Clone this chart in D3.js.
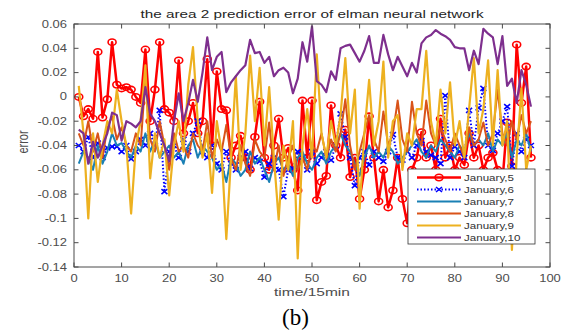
<!DOCTYPE html>
<html><head><meta charset="utf-8">
<script src="https://cdn.jsdelivr.net/npm/d3@7"></script>
<style>body{margin:0;background:#fff} svg{display:block}</style>
</head><body><svg id="c" width="567" height="334"></svg>
<script>
const seriesNames = ["January,5","January,6","January,7","January,8","January,9","January,10"];
const jan5 = [0.000,-0.016,-0.010,-0.018,0.037,-0.017,-0.002,0.045,0.010,0.007,0.008,0.006,0.000,-0.005,0.039,-0.020,0.006,0.045,-0.010,-0.013,
-0.020,0.030,-0.030,-0.020,-0.005,-0.030,-0.020,0.031,-0.040,0.021,-0.010,-0.011,-0.050,-0.040,-0.032,-0.050,-0.060,-0.033,-0.004,-0.050,
-0.060,-0.040,-0.018,-0.050,-0.042,-0.060,-0.077,-0.003,-0.050,-0.003,-0.085,-0.070,-0.065,-0.007,-0.040,-0.050,-0.027,-0.066,-0.050,-0.084,
-0.060,-0.016,-0.050,-0.086,-0.060,-0.091,-0.077,-0.050,-0.084,-0.104,-0.060,-0.050,-0.029,-0.050,-0.040,-0.060,-0.018,-0.050,-0.040,-0.060,
-0.050,-0.056,-0.030,-0.050,-0.040,-0.060,-0.050,-0.046,-0.060,-0.070,-0.021,-0.057,0.043,-0.005,0.025,-0.050];
const jan6 = [-0.040,-0.045,-0.033,-0.050,-0.038,-0.050,-0.042,-0.041,-0.041,-0.045,-0.040,-0.051,-0.045,-0.035,-0.040,-0.030,-0.040,-0.011,-0.078,-0.045,
-0.040,-0.050,-0.035,-0.045,-0.030,-0.020,-0.045,-0.050,-0.040,-0.055,-0.060,-0.045,-0.055,-0.060,-0.050,-0.045,-0.059,-0.050,-0.053,-0.066,
-0.055,-0.050,-0.060,-0.082,-0.060,-0.059,-0.045,-0.050,-0.060,-0.045,-0.055,-0.050,-0.045,-0.052,-0.040,-0.014,-0.033,-0.050,-0.073,-0.050,
-0.045,-0.056,-0.045,-0.050,-0.053,-0.045,-0.031,-0.050,-0.052,-0.045,-0.050,-0.040,-0.036,-0.045,-0.048,-0.050,-0.055,0.001,-0.050,-0.041,
-0.045,-0.050,-0.011,-0.040,-0.009,0.007,-0.040,-0.044,-0.030,-0.020,-0.008,-0.057,-0.030,-0.045,-0.035,-0.040];
const jan7 = [-0.055,-0.045,-0.050,-0.060,-0.040,-0.055,-0.045,-0.030,-0.040,-0.038,-0.045,-0.050,-0.040,-0.045,-0.030,-0.045,-0.035,-0.050,-0.045,-0.040,
-0.050,-0.045,-0.055,-0.040,-0.035,-0.050,-0.040,-0.045,-0.050,-0.060,-0.055,-0.070,-0.050,-0.055,-0.065,-0.060,-0.045,-0.055,-0.050,-0.060,
-0.070,-0.055,-0.050,-0.060,-0.055,-0.065,-0.050,-0.045,-0.055,-0.060,-0.050,-0.045,-0.055,-0.045,-0.040,-0.030,-0.040,-0.045,-0.055,-0.065,
-0.050,-0.040,-0.050,-0.045,-0.050,-0.040,-0.045,-0.055,-0.050,-0.045,-0.040,-0.035,-0.045,-0.050,-0.040,-0.045,-0.035,-0.040,-0.045,-0.050,
-0.040,-0.045,-0.030,-0.040,-0.035,-0.040,-0.030,-0.045,-0.035,-0.040,-0.030,-0.050,-0.035,-0.040,-0.030,-0.045];
const jan8 = [-0.030,-0.040,-0.020,-0.045,-0.030,-0.050,-0.025,-0.016,-0.035,-0.025,-0.040,-0.045,-0.030,-0.040,0.015,-0.035,-0.045,-0.020,-0.040,-0.060,
-0.030,-0.045,-0.040,-0.050,-0.030,-0.040,-0.045,-0.020,-0.050,-0.035,-0.045,-0.023,-0.050,-0.060,-0.040,-0.055,-0.065,-0.035,-0.045,-0.050,
-0.021,-0.060,-0.040,-0.065,-0.050,-0.040,-0.060,-0.050,-0.060,-0.040,-0.045,-0.030,-0.050,-0.035,-0.045,-0.030,-0.002,-0.040,-0.060,-0.045,
-0.030,-0.015,-0.035,-0.045,-0.012,-0.040,-0.030,-0.003,-0.035,-0.045,-0.004,-0.030,-0.040,-0.003,-0.030,-0.040,-0.025,-0.035,-0.045,-0.030,
-0.040,-0.050,-0.025,-0.040,-0.035,-0.021,-0.040,-0.030,0.006,-0.030,-0.040,-0.020,-0.035,-0.015,-0.030,-0.020];
const jan9 = [0.009,-0.030,-0.100,-0.030,-0.070,-0.040,-0.020,-0.030,0.006,-0.020,-0.040,-0.096,-0.040,-0.020,0.026,-0.067,-0.030,-0.050,-0.035,-0.081,
-0.040,-0.020,-0.045,0.010,0.041,-0.020,-0.050,-0.030,-0.079,-0.020,-0.045,-0.117,-0.050,0.017,-0.060,-0.030,0.034,-0.020,0.024,-0.040,
0.008,-0.050,-0.101,-0.040,-0.060,-0.020,-0.133,-0.040,-0.010,-0.050,0.035,-0.030,-0.050,-0.020,-0.040,-0.015,0.032,-0.030,0.006,-0.092,
-0.030,0.014,-0.040,-0.020,0.029,-0.050,-0.020,-0.015,-0.060,-0.030,-0.040,-0.010,-0.010,0.038,-0.020,-0.040,0.006,-0.030,0.012,-0.040,
-0.020,-0.050,-0.010,0.032,-0.030,-0.010,0.030,-0.040,0.022,-0.040,-0.020,-0.126,-0.050,0.007,-0.060,-0.040];
const jan10 = [-0.027,-0.030,-0.055,-0.037,-0.050,-0.040,-0.030,-0.013,-0.015,-0.036,-0.020,-0.022,-0.025,-0.020,0.008,-0.014,-0.020,-0.030,-0.040,-0.053,
-0.020,0.003,-0.020,-0.005,0.014,-0.004,0.020,0.049,0.022,0.033,0.037,0.004,0.012,0.017,0.022,0.026,0.047,0.036,0.037,0.028,
0.033,0.017,0.022,0.024,0.020,0.003,0.015,0.045,0.029,0.058,0.013,0.010,0.004,0.021,0.014,0.040,0.042,0.043,0.036,0.029,
0.038,0.050,0.028,0.028,0.051,0.035,0.022,0.033,0.025,0.017,0.028,0.020,0.044,0.049,0.051,0.055,0.052,0.050,0.047,0.041,
0.040,0.040,0.022,0.038,0.027,0.056,0.052,0.049,0.027,0.050,0.009,0.015,-0.005,0.022,0.010,-0.008];
const xTicks = [0,10,20,30,40,50,60,70,80,90,100];
const yTicks = [-0.14,-0.12,-0.1,-0.08,-0.06,-0.04,-0.02,0,0.02,0.04,0.06];
const yTickLabels = ["-0.14","-0.12","-0.1","-0.08","-0.06","-0.04","-0.02","0","0.02","0.04","0.06"];
const titleText = "the area 2 prediction error of elman neural network";
const xLabel = "time/15min", yLabel = "error", caption = "(b)";

const allSeries = [jan5, jan6, jan7, jan8, jan9, jan10];
const styles = [
  {color:"#FF0000", w:2.5, dash:null, marker:"o"},
  {color:"#0000FF", w:2, dash:"1.5,2", marker:"x"},
  {color:"#1a80b4", w:2, dash:null, marker:null},
  {color:"#D95319", w:2, dash:null, marker:null},
  {color:"#EDB120", w:2.2, dash:null, marker:null},
  {color:"#7E2F8E", w:2.2, dash:null, marker:null}
];
const SX = 1.3;
const L=74, R=550, T=24, B=267;
const x = d3.scaleLinear().domain([0,100]).range([L,R]);
const y = d3.scaleLinear().domain([-0.14,0.06]).range([B,T]);
const svg = d3.select("#c");
const font = "'Liberation Sans', Arial, Helvetica, sans-serif";
const axisCol = "#4a4a4a", textCol = "#4d4d4d";

svg.append("defs").append("clipPath").attr("id","clip")
  .append("rect").attr("x",L).attr("y",T).attr("width",R-L).attr("height",B-T);

const plot = svg.append("g").attr("clip-path","url(#clip)");
const line = d3.line().x((d,i)=>x(i+1)).y(d=>y(d));

function drawMarker(g, type, cx, cy, col){
  if(type==="o"){
    g.append("ellipse").attr("cx",cx).attr("cy",cy).attr("rx",4).attr("ry",3.2)
      .attr("fill","none").attr("stroke",col).attr("stroke-width",1.6);
  } else if(type==="x"){
    g.append("path").attr("d",`M${cx-3},${cy-2.5}L${cx+3},${cy+2.5}M${cx-3},${cy+2.5}L${cx+3},${cy-2.5}`)
      .attr("stroke",col).attr("stroke-width",1.6).attr("fill","none");
  }
}

allSeries.forEach((vals,k)=>{
  const st = styles[k];
  const g = plot.append("g");
  g.append("path").datum(vals).attr("d",line).attr("fill","none")
    .attr("stroke",st.color).attr("stroke-width",st.w).attr("stroke-linejoin","round")
    .attr("stroke-dasharray",st.dash);
  if(st.marker){
    vals.forEach((v,i)=>drawMarker(g, st.marker, x(i+1), y(v), st.color));
  }
});

// axes
const ax = svg.append("g");
ax.append("rect").attr("x",L).attr("y",T).attr("width",R-L).attr("height",B-T)
  .attr("fill","none").attr("stroke",axisCol).attr("stroke-width",1);
xTicks.forEach(t=>{
  ax.append("line").attr("x1",x(t)).attr("x2",x(t)).attr("y1",B).attr("y2",B-4.5).attr("stroke",axisCol);
  ax.append("line").attr("x1",x(t)).attr("x2",x(t)).attr("y1",T).attr("y2",T+4.5).attr("stroke",axisCol);
  ax.append("text").attr("transform",`translate(${x(t)},282) scale(${SX},1)`)
    .attr("text-anchor","middle").attr("font-family",font).attr("font-size",10).attr("fill",textCol).text(t);
});
yTicks.forEach((t,i)=>{
  ax.append("line").attr("x1",L).attr("x2",L+4.5).attr("y1",y(t)).attr("y2",y(t)).attr("stroke",axisCol);
  ax.append("line").attr("x1",R).attr("x2",R-4.5).attr("y1",y(t)).attr("y2",y(t)).attr("stroke",axisCol);
  ax.append("text").attr("transform",`translate(${L-7},${y(t)+3.5}) scale(${SX},1)`)
    .attr("text-anchor","end").attr("font-family",font).attr("font-size",10).attr("fill",textCol).text(yTickLabels[i]);
});

// labels
svg.append("text").attr("transform",`translate(${(L+R)/2},17.5) scale(1.33,1)`)
  .attr("text-anchor","middle").attr("font-family",font).attr("font-size",11.5).attr("fill","#262626").text(titleText);
svg.append("text").attr("transform",`translate(${(L+R)/2},296) scale(1.35,1)`)
  .attr("text-anchor","middle").attr("font-family",font).attr("font-size",11.5).attr("fill",textCol).text(xLabel);
svg.append("text").attr("transform",`translate(28,142) rotate(-90) scale(1,1.3)`)
  .attr("text-anchor","middle").attr("font-family",font).attr("font-size",11).attr("fill",textCol).text(yLabel);
svg.append("text").attr("x",282).attr("y",325)
  .attr("font-family","'Liberation Serif', 'Times New Roman', serif").attr("font-size",23).attr("fill","#000").text(caption);

// legend
const lg = svg.append("g");
lg.append("rect").attr("x",408).attr("y",169).attr("width",127).attr("height",75)
  .attr("fill","#fff").attr("stroke","#333").attr("stroke-width",0.8);
seriesNames.forEach((n,k)=>{
  const st = styles[k];
  const yy = 177.5 + k*12;
  lg.append("line").attr("x1",417).attr("x2",461).attr("y1",yy).attr("y2",yy)
    .attr("stroke",st.color).attr("stroke-width",st.w).attr("stroke-dasharray",st.dash);
  if(st.marker) drawMarker(lg, st.marker, 439, yy, st.color);
  lg.append("text").attr("transform",`translate(464,${yy+3.4}) scale(1.22,1)`)
    .attr("font-family",font).attr("font-size",9.5).attr("fill","#333").text(n);
});
</script></body></html>
